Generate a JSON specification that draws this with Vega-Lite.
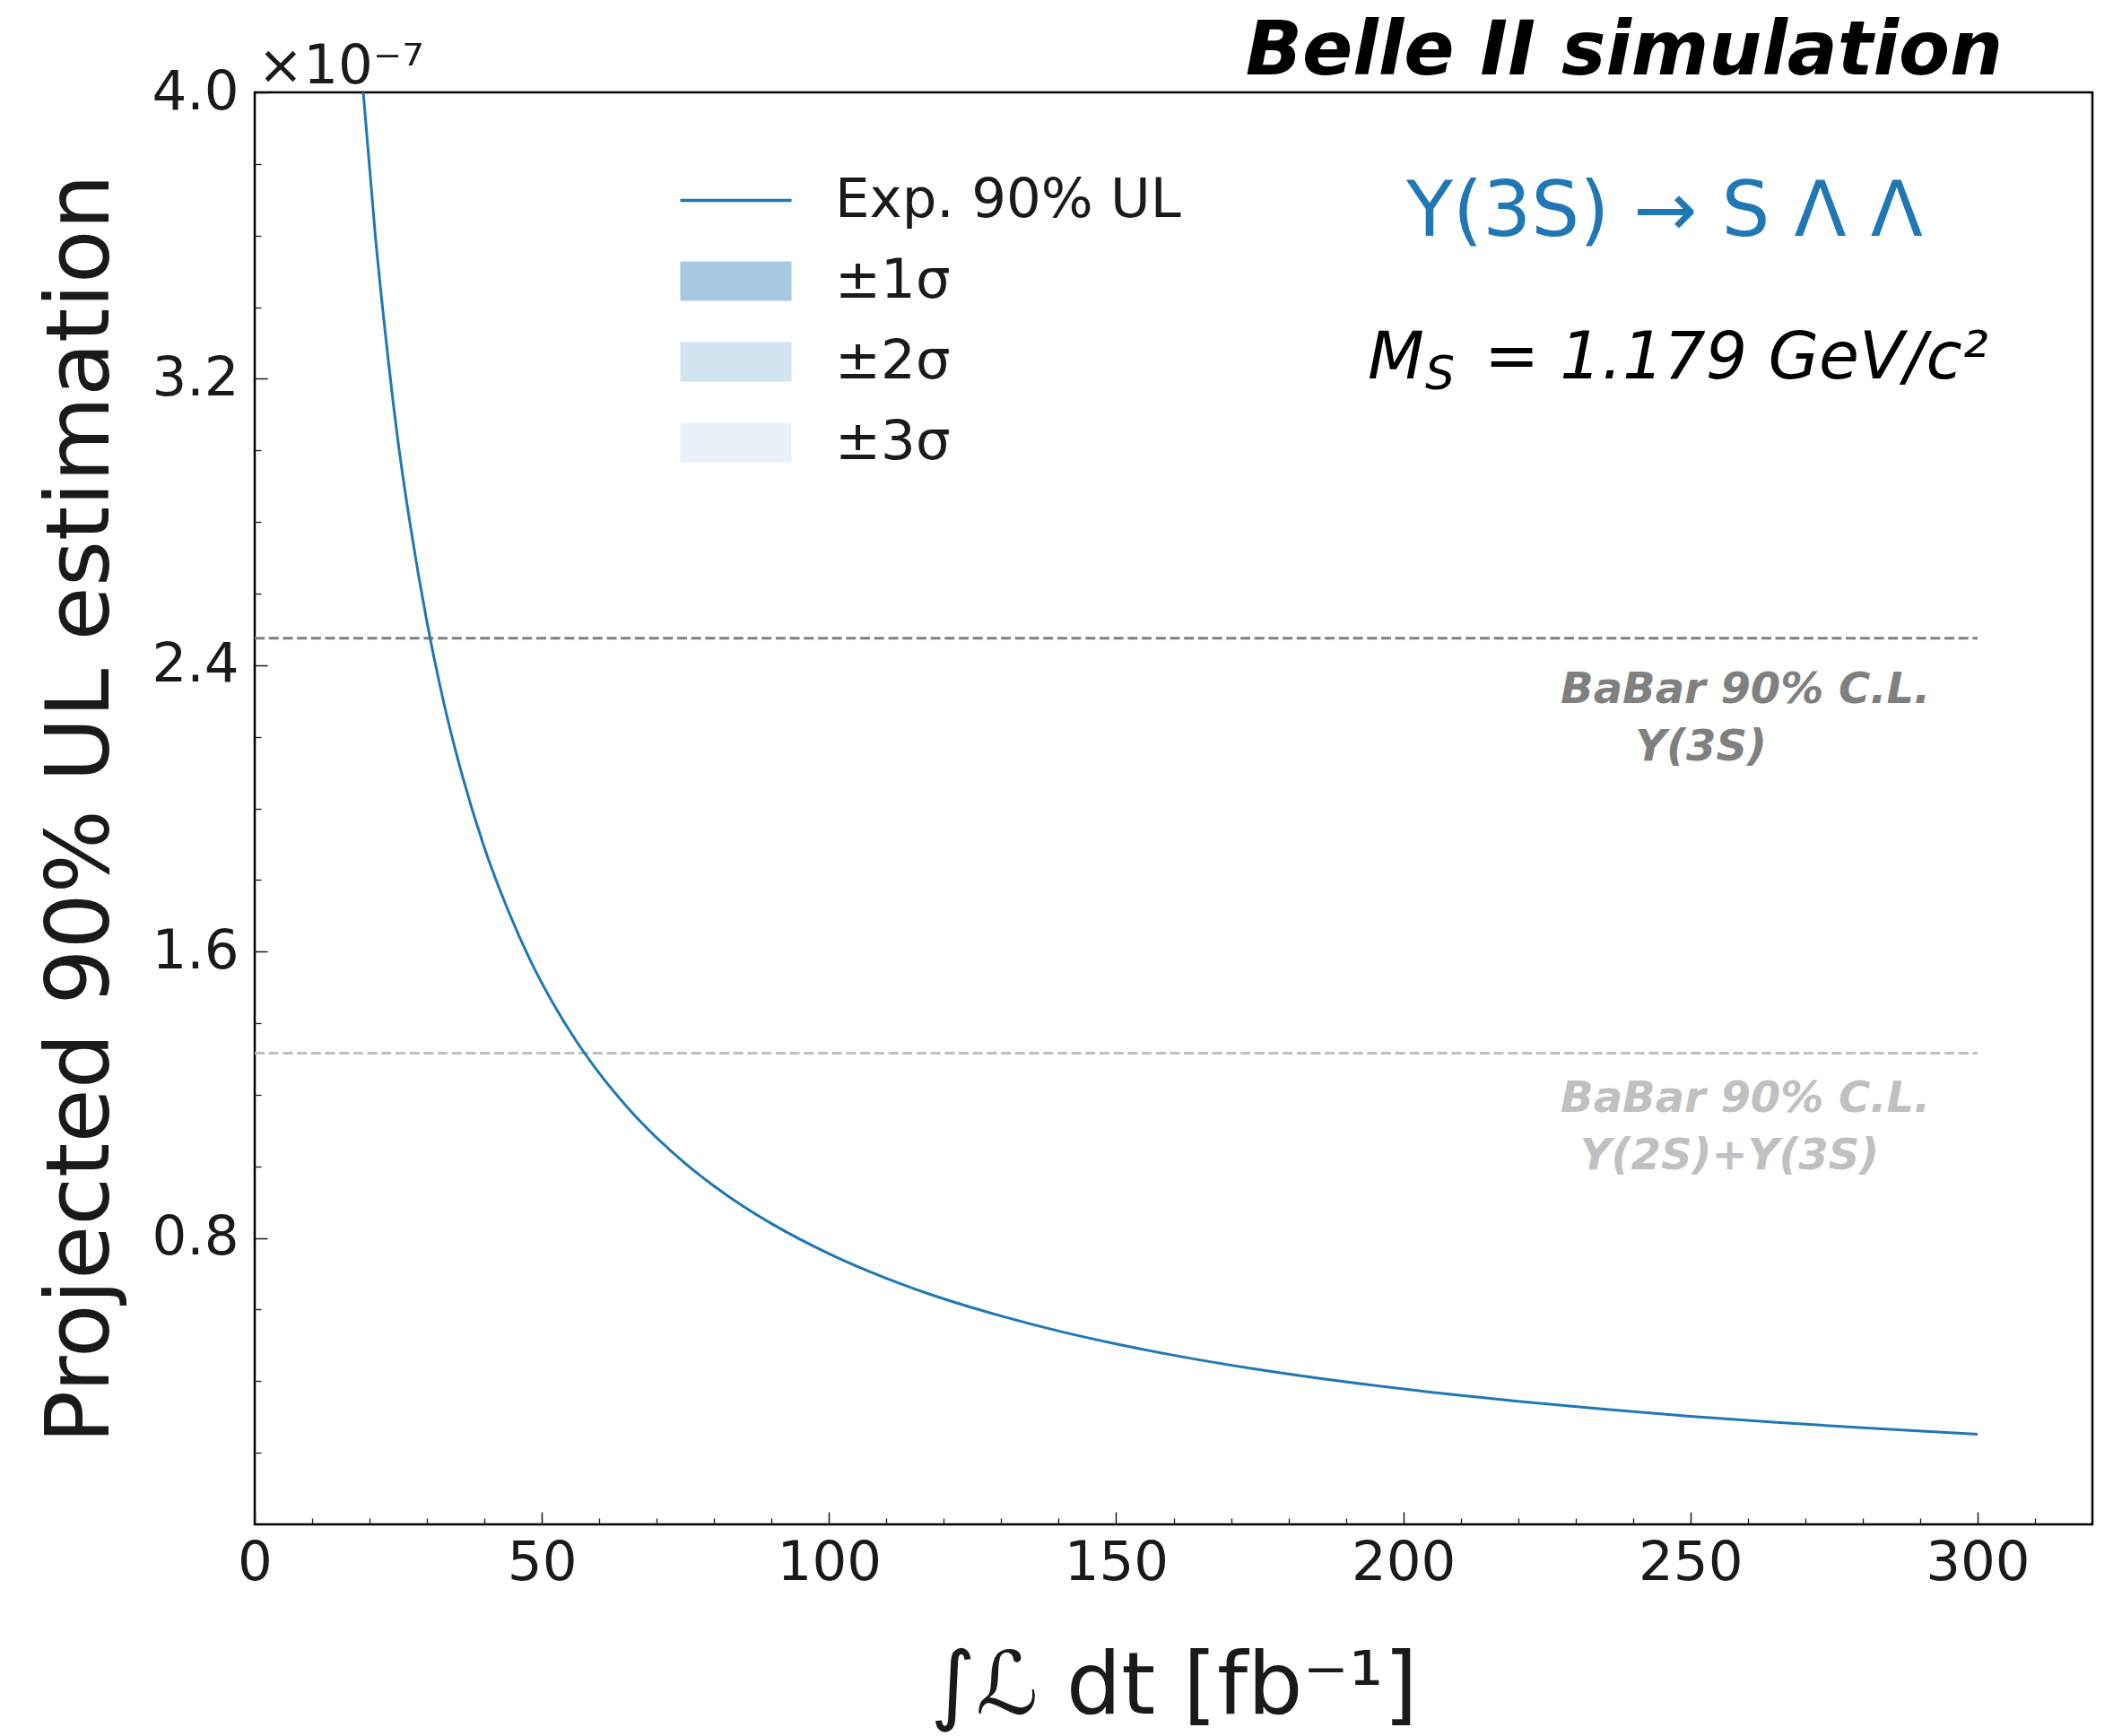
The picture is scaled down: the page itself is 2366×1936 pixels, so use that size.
{
  "$schema": "https://vega.github.io/schema/vega-lite/v6.json",
  "width": 2049,
  "height": 1597,
  "autosize": {"type": "none"},
  "padding": {"left": 284, "top": 103, "right": 33, "bottom": 236},
  "background": "white",
  "datasets": {
    "curve": [
      {"series": "Exp. 90% UL", "lumi": 18.9, "ul": 4.0},
      {"series": "Exp. 90% UL", "lumi": 21, "ul": 3.6},
      {"series": "Exp. 90% UL", "lumi": 23, "ul": 3.29},
      {"series": "Exp. 90% UL", "lumi": 25, "ul": 3.02},
      {"series": "Exp. 90% UL", "lumi": 27, "ul": 2.8},
      {"series": "Exp. 90% UL", "lumi": 30, "ul": 2.52},
      {"series": "Exp. 90% UL", "lumi": 33, "ul": 2.29},
      {"series": "Exp. 90% UL", "lumi": 36, "ul": 2.1},
      {"series": "Exp. 90% UL", "lumi": 40, "ul": 1.89},
      {"series": "Exp. 90% UL", "lumi": 44, "ul": 1.72},
      {"series": "Exp. 90% UL", "lumi": 48, "ul": 1.575},
      {"series": "Exp. 90% UL", "lumi": 52, "ul": 1.454},
      {"series": "Exp. 90% UL", "lumi": 56, "ul": 1.35},
      {"series": "Exp. 90% UL", "lumi": 60, "ul": 1.26},
      {"series": "Exp. 90% UL", "lumi": 65, "ul": 1.163},
      {"series": "Exp. 90% UL", "lumi": 70, "ul": 1.08},
      {"series": "Exp. 90% UL", "lumi": 75, "ul": 1.008},
      {"series": "Exp. 90% UL", "lumi": 80, "ul": 0.945},
      {"series": "Exp. 90% UL", "lumi": 85, "ul": 0.889},
      {"series": "Exp. 90% UL", "lumi": 90, "ul": 0.84},
      {"series": "Exp. 90% UL", "lumi": 100, "ul": 0.756},
      {"series": "Exp. 90% UL", "lumi": 110, "ul": 0.687},
      {"series": "Exp. 90% UL", "lumi": 120, "ul": 0.63},
      {"series": "Exp. 90% UL", "lumi": 130, "ul": 0.582},
      {"series": "Exp. 90% UL", "lumi": 140, "ul": 0.54},
      {"series": "Exp. 90% UL", "lumi": 150, "ul": 0.504},
      {"series": "Exp. 90% UL", "lumi": 160, "ul": 0.4725},
      {"series": "Exp. 90% UL", "lumi": 175, "ul": 0.432},
      {"series": "Exp. 90% UL", "lumi": 190, "ul": 0.398},
      {"series": "Exp. 90% UL", "lumi": 205, "ul": 0.369},
      {"series": "Exp. 90% UL", "lumi": 220, "ul": 0.344},
      {"series": "Exp. 90% UL", "lumi": 235, "ul": 0.322},
      {"series": "Exp. 90% UL", "lumi": 250, "ul": 0.302},
      {"series": "Exp. 90% UL", "lumi": 265, "ul": 0.285},
      {"series": "Exp. 90% UL", "lumi": 280, "ul": 0.27},
      {"series": "Exp. 90% UL", "lumi": 300, "ul": 0.252}
    ],
    "limits": [
      {"set": "Y3S", "lumi_start": 0, "lumi_end": 300, "ul": 2.475},
      {"set": "Y2S+Y3S", "lumi_start": 0, "lumi_end": 300, "ul": 1.316}
    ]
  },
  "config": {
    "font": "DejaVu Sans",
    "view": {"stroke": "#000000", "strokeWidth": 2.5},
    "axis": {"domain": false, "grid": false, "labelColor": "#1a1a1a", "tickColor": "#1a1a1a", "titleColor": "#1a1a1a", "labelFont": "DejaVu Sans", "titleFont": "DejaVu Sans"}
  },
  "layer": [
    {
      "data": {"name": "limits"},
      "transform": [{"filter": "datum.set == 'Y3S'"}],
      "mark": {"type": "rule", "color": "#808080", "strokeWidth": 3, "strokeDash": [11, 4.7]},
      "encoding": {
        "x": {"field": "lumi_start", "type": "quantitative", "scale": {"domain": [0, 320], "nice": false, "zero": false},
          "axis": {"orient": "bottom", "values": [10,20,30,40,60,70,80,90,110,120,130,140,160,170,180,190,210,220,230,240,260,270,280,290,310], "tickSize": -7, "tickWidth": 1.3, "labels": false, "title": null, "domain": false, "grid": false}},
        "x2": {"field": "lumi_end"},
        "y": {"field": "ul", "type": "quantitative", "scale": {"domain": [0, 4], "nice": false, "zero": false},
          "axis": {"orient": "left", "values": [0.2,0.4,0.6,1.0,1.2,1.4,1.8,2.0,2.2,2.6,2.8,3.0,3.4,3.6,3.8], "tickSize": -7, "tickWidth": 1.3, "labels": false, "title": null, "domain": false, "grid": false}}
      }
    },
    {
      "data": {"name": "limits"},
      "transform": [{"filter": "datum.set == 'Y2S+Y3S'"}],
      "mark": {"type": "rule", "color": "#c0c0c0", "strokeWidth": 3, "strokeDash": [11, 4.7]},
      "encoding": {
        "x": {"field": "lumi_start", "type": "quantitative", "axis": null},
        "x2": {"field": "lumi_end"},
        "y": {"field": "ul", "type": "quantitative", "axis": null}
      }
    },
    {
      "data": {"name": "curve"},
      "mark": {"type": "line", "strokeWidth": 3, "clip": true, "interpolate": "monotone"},
      "encoding": {
        "x": {"field": "lumi", "type": "quantitative", "scale": {"domain": [0, 320], "nice": false, "zero": false},
          "axis": {"orient": "bottom", "values": [0,50,100,150,200,250,300], "format": "d", "tickSize": -14, "tickWidth": 1.5,
            "labelFontSize": 61, "labelPadding": 27, "labelFlush": false, "labelOverlap": false,
            "title": "∫ℒ dt [fb⁻¹]", "titleFontSize": 97, "titleFontWeight": "normal",
            "titleX": 1024.5, "titleY": 210.7, "titleBaseline": "alphabetic", "titleAlign": "center"}},
        "y": {"field": "ul", "type": "quantitative", "scale": {"domain": [0, 4], "nice": false, "zero": false},
          "axis": {"orient": "left", "values": [0.8,1.6,2.4,3.2,4.0], "format": ".1f", "tickSize": -14, "tickWidth": 1.5,
            "labelFontSize": 61, "labelPadding": 32, "labelOverlap": false,
            "title": "Projected 90% UL estimation", "titleFontSize": 98, "titleFontWeight": "normal",
            "titleAngle": -90, "titleX": -164, "titleY": 798.5, "titleBaseline": "alphabetic", "titleAlign": "center"}},
        "color": {"field": "series", "type": "nominal",
          "scale": {"domain": ["Exp. 90% UL", "±1σ", "±2σ", "±3σ"], "range": ["#1f77b4", "#a6c8e0", "#d2e4f0", "#e9f1f8"]},
          "legend": {
            "title": null, "orient": "none", "legendX": 506, "legendY": 90, "padding": 0,
            "labelFontSize": 61, "labelColor": "#1a1a1a", "labelFont": "DejaVu Sans", "labelOffset": 80, "labelLimit": 1000,
            "rowPadding": 28, "symbolSize": 1936, "symbolStrokeWidth": 0,
            "encode": {"symbols": {"update": {
              "shape": {"signal": "datum.value === 'Exp. 90% UL' ? 'M-2.818,-0.08H2.818V0.08H-2.818Z' : 'M-2.818,-1H2.818V1H-2.818Z'"},
              "fill": {"signal": "scale('color', datum.value)"},
              "stroke": {"value": "transparent"},
              "strokeWidth": {"value": 0},
              "opacity": {"value": 1},
              "fillOpacity": {"value": 1}
            }}}
          }}
      }
    },
    {
      "data": {"values": [{"note": "Belle II simulation", "lumi": 304.4, "ul": 4.049}]},
      "mark": {"type": "text", "align": "right", "baseline": "alphabetic", "fontSize": 83, "fontWeight": "bold", "fontStyle": "italic", "color": "#000000"},
      "encoding": {
        "x": {"field": "lumi", "type": "quantitative", "axis": null},
        "y": {"field": "ul", "type": "quantitative", "axis": null},
        "text": {"field": "note"}
      }
    },
    {
      "data": {"values": [{"note": "×10⁻⁷", "lumi": 0.5, "ul": 4.025}]},
      "mark": {"type": "text", "align": "left", "baseline": "alphabetic", "fontSize": 61, "color": "#1a1a1a"},
      "encoding": {
        "x": {"field": "lumi", "type": "quantitative", "axis": null},
        "y": {"field": "ul", "type": "quantitative", "axis": null},
        "text": {"field": "note"}
      }
    },
    {
      "data": {"values": [{"note": "Υ(3S) → S Λ Λ", "lumi": 245.5, "ul": 3.6}]},
      "mark": {"type": "text", "align": "center", "baseline": "alphabetic", "fontSize": 85, "color": "#1f77b4"},
      "encoding": {
        "x": {"field": "lumi", "type": "quantitative", "axis": null},
        "y": {"field": "ul", "type": "quantitative", "axis": null},
        "text": {"field": "note"}
      }
    },
    {
      "data": {"values": [{"note": "M", "lumi": 193.8, "ul": 3.202}, {"note": "= 1.179 GeV/c²", "lumi": 214.1, "ul": 3.202}]},
      "mark": {"type": "text", "align": "left", "baseline": "alphabetic", "fontSize": 73, "fontStyle": "italic", "color": "#000000"},
      "encoding": {
        "x": {"field": "lumi", "type": "quantitative", "axis": null},
        "y": {"field": "ul", "type": "quantitative", "axis": null},
        "text": {"field": "note"}
      }
    },
    {
      "data": {"values": [{"note": "S", "lumi": 203.8, "ul": 3.172}]},
      "mark": {"type": "text", "align": "left", "baseline": "alphabetic", "fontSize": 52, "fontStyle": "italic", "color": "#000000"},
      "encoding": {
        "x": {"field": "lumi", "type": "quantitative", "axis": null},
        "y": {"field": "ul", "type": "quantitative", "axis": null},
        "text": {"field": "note"}
      }
    },
    {
      "data": {"values": [{"note": "BaBar 90% C.L.", "lumi": 227.4, "ul": 2.294}, {"note": "Υ(3S)", "lumi": 240.4, "ul": 2.133}]},
      "mark": {"type": "text", "align": "left", "baseline": "alphabetic", "fontSize": 48, "fontStyle": "italic", "fontWeight": "bold", "color": "#808080"},
      "encoding": {
        "x": {"field": "lumi", "type": "quantitative", "axis": null},
        "y": {"field": "ul", "type": "quantitative", "axis": null},
        "text": {"field": "note"}
      }
    },
    {
      "data": {"values": [{"note": "BaBar 90% C.L.", "lumi": 227.4, "ul": 1.153}, {"note": "Υ(2S)+Υ(3S)", "lumi": 230.8, "ul": 0.992}]},
      "mark": {"type": "text", "align": "left", "baseline": "alphabetic", "fontSize": 48, "fontStyle": "italic", "fontWeight": "bold", "color": "#c0c0c0"},
      "encoding": {
        "x": {"field": "lumi", "type": "quantitative", "axis": null},
        "y": {"field": "ul", "type": "quantitative", "axis": null},
        "text": {"field": "note"}
      }
    }
  ],
  "resolve": {"axis": {"x": "independent", "y": "independent"}}
}
